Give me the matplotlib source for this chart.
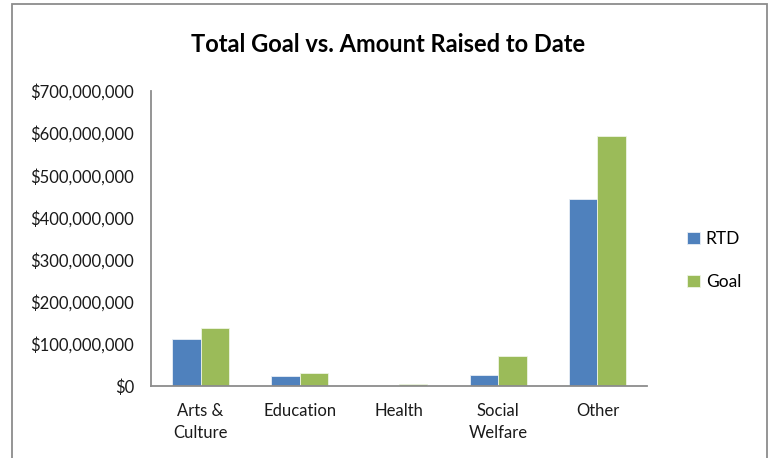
import matplotlib
matplotlib.use('Agg')
import matplotlib.pyplot as plt
import matplotlib.patches as mpatches
from matplotlib.ticker import FuncFormatter
import numpy as np

# fundraising totals by area
categories = ['Arts &\nCulture', 'Education', 'Health', 'Social\nWelfare', 'Other']
rtd = [112_000_000, 24_000_000, 1_000_000, 26_000_000, 444_000_000]
goal = [138_000_000, 32_000_000, 5_000_000, 72_000_000, 594_000_000]

plt.rcParams['font.family'] = ['Lato', 'DejaVu Sans']

fig = plt.figure(figsize=(7.76, 4.58), dpi=100)
fig.patch.set_facecolor('white')

# chart area border (runs off the bottom edge)
fig.patches.append(mpatches.Rectangle((12/776, -0.05), (767-12)/776, 1.05 - 4/458,
                                      transform=fig.transFigure, fill=False,
                                      edgecolor='#8c8c8c', linewidth=1.3))

ax = fig.add_axes([151/776, 1 - 386/458, (647-151)/776, (386-91)/458])

x = np.arange(len(categories))
w = 1 / 3.5
ax.bar(x - w/2, rtd, w, color='#4F81BD', edgecolor='#e8eef6', linewidth=0.6, label='RTD')
ax.bar(x + w/2, goal, w, color='#9BBB59', edgecolor='#eef4e4', linewidth=0.6, label='Goal')

ax.set_xlim(-0.5, len(categories) - 0.5)
ax.set_ylim(0, 700_000_000)
ax.set_yticks(np.arange(0, 700_000_001, 100_000_000))
ax.yaxis.set_major_formatter(FuncFormatter(lambda v, p: '${:,.0f}'.format(v)))
ax.set_xticks(x)
ax.set_xticklabels(categories, linespacing=1.45)
ax.tick_params(axis='both', length=0, labelsize=12, colors='#1a1a1a')
ax.tick_params(axis='x', pad=12)
ax.tick_params(axis='y', pad=12)

for s in ['top', 'right']:
    ax.spines[s].set_visible(False)
for s in ['left', 'bottom']:
    ax.spines[s].set_color('#8c8c8c')
    ax.spines[s].set_linewidth(1.3)

fig.text(0.5, 1 - 45/458, 'Total Goal vs. Amount Raised to Date', ha='center', va='center',
         fontsize=17, fontweight='bold', color='black')

ax.legend(loc='center left', bbox_to_anchor=(1.05, 0.425), frameon=False, fontsize=12.5,
          handlelength=0.7, handleheight=0.7, handletextpad=0.35, labelspacing=1.55)

plt.savefig('out.png', dpi=100)
